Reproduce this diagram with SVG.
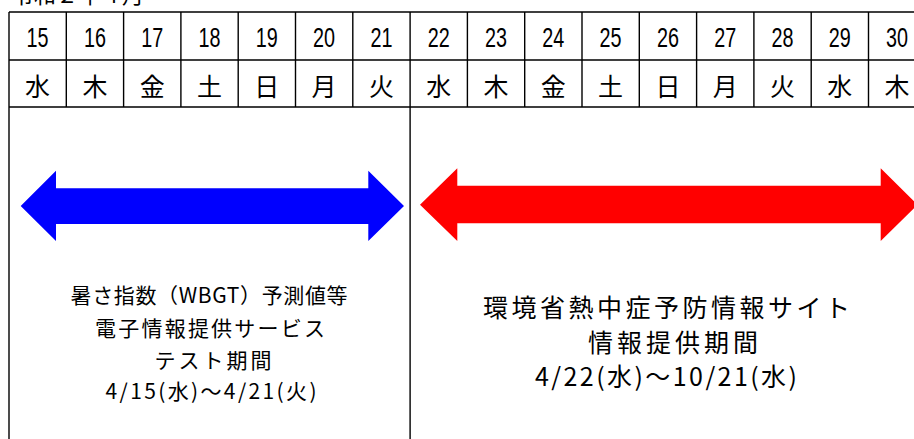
<svg xmlns="http://www.w3.org/2000/svg" width="914" height="439" viewBox="0 0 914 439">
<style>
.ln{stroke:#000;stroke-width:1.4;fill:none}
.num{font-family:"Liberation Sans","Noto Sans CJK JP",sans-serif;font-size:27px;fill:#000;text-anchor:middle}
.day{font-family:"Noto Sans CJK JP",sans-serif;font-size:25px;fill:#000;text-anchor:middle}
.lt{font-family:"Noto Sans CJK JP",sans-serif;font-size:21px;fill:#000;text-anchor:middle}
.rt{font-family:"Noto Sans CJK JP",sans-serif;font-size:25px;fill:#000;text-anchor:middle}
</style>
<rect width="914" height="439" fill="#fff"/>
<text x="78" y="3" class="day" style="font-size:22px">令和２年４月</text>
<g id="calendar">
<path class="ln" d="M9,12H914M9,60H914M9,107H914M9,12V439M410.1,107V439"/>
<path class="ln" d="M66.3,12V107M123.6,12V107M180.9,12V107M238.2,12V107M295.5,12V107M352.8,12V107M410.1,12V107M467.4,12V107M524.7,12V107M582,12V107M639.3,12V107M696.6,12V107M753.9,12V107M811.2,12V107M868.5,12V107"/>
<g>
<text class="num" x="37.6" y="46.5" textLength="22" lengthAdjust="spacingAndGlyphs">15</text>
<text class="num" x="94.9" y="46.5" textLength="22" lengthAdjust="spacingAndGlyphs">16</text>
<text class="num" x="152.2" y="46.5" textLength="22" lengthAdjust="spacingAndGlyphs">17</text>
<text class="num" x="209.5" y="46.5" textLength="22" lengthAdjust="spacingAndGlyphs">18</text>
<text class="num" x="266.8" y="46.5" textLength="22" lengthAdjust="spacingAndGlyphs">19</text>
<text class="num" x="324.1" y="46.5" textLength="22" lengthAdjust="spacingAndGlyphs">20</text>
<text class="num" x="381.4" y="46.5" textLength="22" lengthAdjust="spacingAndGlyphs">21</text>
<text class="num" x="438.7" y="46.5" textLength="22" lengthAdjust="spacingAndGlyphs">22</text>
<text class="num" x="496" y="46.5" textLength="22" lengthAdjust="spacingAndGlyphs">23</text>
<text class="num" x="553.3" y="46.5" textLength="22" lengthAdjust="spacingAndGlyphs">24</text>
<text class="num" x="610.6" y="46.5" textLength="22" lengthAdjust="spacingAndGlyphs">25</text>
<text class="num" x="667.9" y="46.5" textLength="22" lengthAdjust="spacingAndGlyphs">26</text>
<text class="num" x="725.2" y="46.5" textLength="22" lengthAdjust="spacingAndGlyphs">27</text>
<text class="num" x="782.5" y="46.5" textLength="22" lengthAdjust="spacingAndGlyphs">28</text>
<text class="num" x="839.8" y="46.5" textLength="22" lengthAdjust="spacingAndGlyphs">29</text>
<text class="num" x="897.1" y="46.5" textLength="22" lengthAdjust="spacingAndGlyphs">30</text>
</g>
<g>
<text class="day" x="37.6" y="95.5">水</text>
<text class="day" x="94.9" y="95.5">木</text>
<text class="day" x="152.2" y="95.5">金</text>
<text class="day" x="209.5" y="95.5">土</text>
<text class="day" x="266.8" y="95.5">日</text>
<text class="day" x="324.1" y="95.5">月</text>
<text class="day" x="381.4" y="95.5">火</text>
<text class="day" x="438.7" y="95.5">水</text>
<text class="day" x="496" y="95.5">木</text>
<text class="day" x="553.3" y="95.5">金</text>
<text class="day" x="610.6" y="95.5">土</text>
<text class="day" x="667.9" y="95.5">日</text>
<text class="day" x="725.2" y="95.5">月</text>
<text class="day" x="782.5" y="95.5">火</text>
<text class="day" x="839.8" y="95.5">水</text>
<text class="day" x="897.1" y="95.5">木</text>
</g>
</g>
<g id="connectors">
<polygon id="blue-arrow" fill="#0000ff" points="20.7,206 56,170.7 56,188.3 368.3,188.3 368.3,170.7 404,206 368.3,241 368.3,224 56,224 56,241"/>
<polygon id="red-arrow" fill="#ff0000" points="420,204.7 457.3,168.3 457.3,185.7 880.7,185.7 880.7,168.3 917.5,204.7 880.7,241 880.7,223.3 457.3,223.3 457.3,241"/>
</g>
<g id="test-period">
<text class="lt" x="209" y="303" textLength="277">暑さ指数（WBGT）予測値等</text>
<text class="lt" x="210" y="335.5" textLength="230">電子情報提供サービス</text>
<text class="lt" x="213" y="368" textLength="117">テスト期間</text>
<text class="lt" x="211" y="399" textLength="211">4/15(水)～4/21(火)</text>
</g>
<g id="info-period">
<text class="rt" x="666.5" y="316.5" textLength="367">環境省熱中症予防情報サイト</text>
<text class="rt" x="673" y="351.5" textLength="170">情報提供期間</text>
<text class="rt" x="666" y="385.5" textLength="262">4/22(水)～10/21(水)</text>
</g>
</svg>
